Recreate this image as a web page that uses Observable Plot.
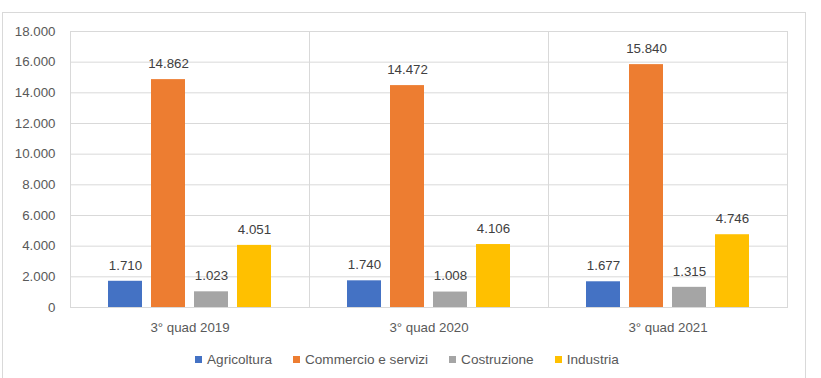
<!DOCTYPE html>
<html>
<head>
<meta charset="utf-8">
<script src="https://cdn.jsdelivr.net/npm/d3@7"></script>
<script src="https://cdn.jsdelivr.net/npm/@observablehq/plot@0.6"></script>
<style>
  html, body { margin: 0; padding: 0; background: #fff; }
  body { width: 821px; height: 378px; position: relative; overflow: hidden; font-family: "Liberation Sans", Arial, sans-serif; }
  #border { position: absolute; left: 2px; top: 12px; width: 802px; height: 400px; border: 1px solid #d9d9d9; box-sizing: content-box; }
  #chart { position: absolute; left: 0; top: 0; }
  #legend { position: absolute; left: 195px; top: 352px; display: flex; align-items: center; font-size: 13.6px; color: #595959; white-space: nowrap; }
  .item { display: flex; align-items: center; margin-right: 21px; }
  .sw { width: 7px; height: 7px; margin-right: 5px; }
</style>
</head>
<body>
<div id="border"></div>
<div id="chart"></div>
<div id="legend"></div>
<script>
const groups = ["3° quad 2019", "3° quad 2020", "3° quad 2021"];
const sectors = ["Agricoltura", "Commercio e servizi", "Costruzione", "Industria"];
const agricoltura = [1710, 1740, 1677];
const commercio = [14862, 14472, 15840];
const costruzione = [1023, 1008, 1315];
const industria = [4051, 4106, 4746];
const colors = ["#4472C4", "#ED7D31", "#A5A5A5", "#FFC000"];
const yTicks = [0, 2000, 4000, 6000, 8000, 10000, 12000, 14000, 16000, 18000];

const series = [agricoltura, commercio, costruzione, industria];
const data = [];
groups.forEach((g, i) => sectors.forEach((s, j) => data.push({group: g, sector: s, value: series[j][i]})));

const locale = d3.formatLocale({decimal: ",", thousands: ".", grouping: [3], currency: ["", "€"]});
const fmt = locale.format(",d");

const chart = Plot.plot({
  width: 821,
  height: 342,
  marginLeft: 69,
  marginRight: 34,
  marginTop: 31,
  marginBottom: 35,
  style: {fontFamily: "Liberation Sans, Arial, sans-serif", fontSize: "13px", background: "transparent"},
  fx: {domain: groups, padding: 0, label: null},
  x: {domain: sectors, axis: null, paddingInner: 0.215, paddingOuter: 0.87},
  y: {domain: [0, 18000], label: null},
  color: {domain: sectors, range: colors},
  marks: [
    Plot.gridY(yTicks, {stroke: "#d9d9d9", strokeOpacity: 1}),
    Plot.frame({stroke: "#d9d9d9"}),
    Plot.barY(data, {fx: "group", x: "sector", y: "value", fill: "sector"}),
    Plot.text(data, {fx: "group", x: "sector", y: "value", text: d => fmt(d.value), dy: -16, lineAnchor: "middle", fill: "#404040", fontSize: 13.3}),
    Plot.axisY({ticks: yTicks, tickFormat: fmt, tickSize: 0, tickPadding: 15, label: null, fill: "#595959", fontSize: 13.3}),
    Plot.axisFx({anchor: "bottom", tickSize: 0, tickPadding: 15, label: null, fill: "#595959", fontSize: 13.3})
  ]
});
document.getElementById("chart").appendChild(chart);

const legend = document.getElementById("legend");
sectors.forEach((s, i) => {
  const it = document.createElement("div");
  it.className = "item";
  const sw = document.createElement("div");
  sw.className = "sw";
  sw.style.background = colors[i];
  const t = document.createElement("span");
  t.textContent = s;
  it.appendChild(sw); it.appendChild(t);
  legend.appendChild(it);
});
</script>
</body>
</html>
